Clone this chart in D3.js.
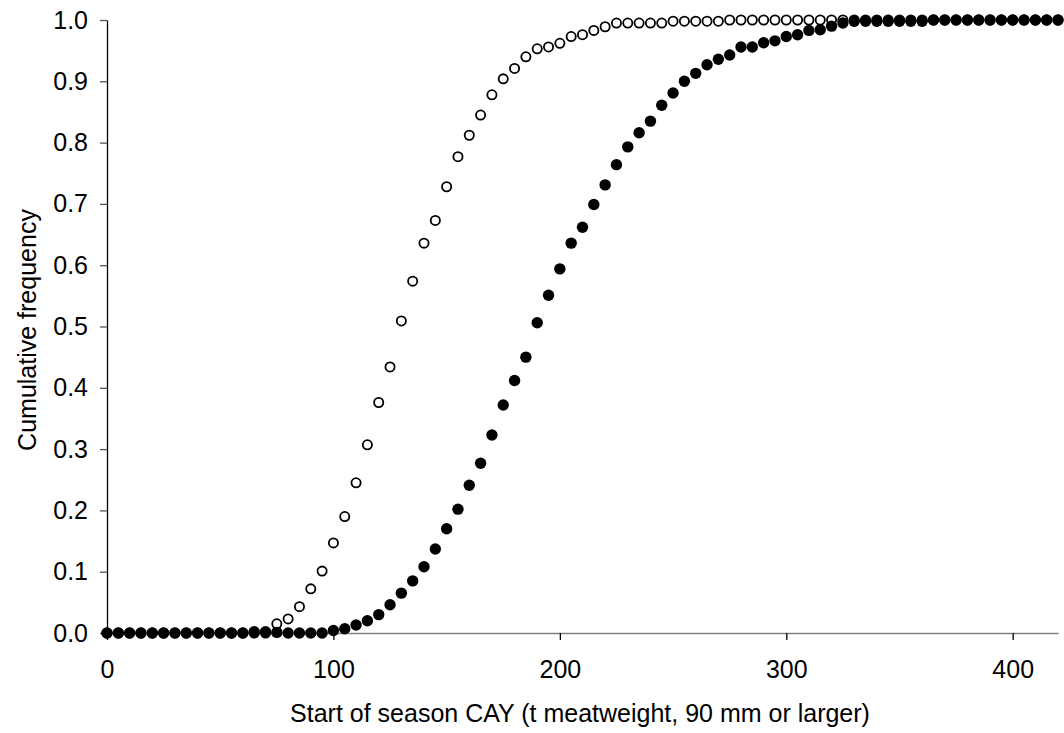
<!DOCTYPE html>
<html>
<head>
<meta charset="utf-8">
<script src="https://cdnjs.cloudflare.com/ajax/libs/d3/7.8.5/d3.min.js"></script>
<style>
  body { margin: 0; background: #fff; }
  svg text { font-family: "Liberation Sans", Arial, sans-serif; fill: #000; }
</style>
</head>
<body>
<div id="chart"></div>
<script>
// start of season CAY (t meatweight), shared by both series
const cay = [0, 5, 10, 15, 20, 25, 30, 35, 40, 45, 50, 55, 60, 65, 70, 75, 80, 85, 90, 95,
  100, 105, 110, 115, 120, 125, 130, 135, 140, 145, 150, 155, 160, 165, 170, 175, 180, 185, 190, 195,
  200, 205, 210, 215, 220, 225, 230, 235, 240, 245, 250, 255, 260, 265, 270, 275, 280, 285, 290, 295,
  300, 305, 310, 315, 320, 325, 330, 335, 340, 345, 350, 355, 360, 365, 370, 375, 380, 385, 390, 395,
  400, 405, 410, 415, 420];

// open circles
const freqOpen = [0, 0, 0, 0, 0, 0, 0, 0, 0, 0, 0, 0, 0, 0, 0, 0.015, 0.023, 0.043, 0.072, 0.101,
  0.147, 0.19, 0.245, 0.307, 0.376, 0.434, 0.509, 0.574, 0.636, 0.673, 0.728, 0.777, 0.812, 0.845, 0.878, 0.904, 0.921, 0.94, 0.953, 0.956,
  0.962, 0.973, 0.976, 0.983, 0.989, 0.995, 0.995, 0.995, 0.995, 0.995, 0.998, 0.998, 0.998, 0.998, 0.998, 1, 1, 1, 1, 1,
  1, 1, 1, 1, 1, 1, 1, 1, 1, 1, 1, 1, 1, 1, 1, 1, 1, 1, 1, 1,
  1, 1, 1, 1, 1];

// filled circles
const freqFilled = [0, 0, 0, 0, 0, 0, 0, 0, 0, 0, 0, 0, 0, 0.002, 0.002, 0.001, 0, 0, 0, 0,
  0.004, 0.007, 0.013, 0.02, 0.03, 0.046, 0.065, 0.085, 0.108, 0.137, 0.17, 0.202, 0.241, 0.277, 0.323, 0.372, 0.412, 0.45, 0.506, 0.551,
  0.594, 0.636, 0.662, 0.699, 0.731, 0.764, 0.793, 0.816, 0.835, 0.861, 0.881, 0.9, 0.913, 0.927, 0.936, 0.943, 0.956, 0.956, 0.963, 0.966,
  0.973, 0.976, 0.983, 0.984, 0.99, 0.995, 0.998, 0.998, 0.998, 0.998, 0.998, 0.998, 0.998, 1, 1, 1, 1, 1, 1, 1,
  1, 1, 1, 1, 1];

const xTicks = [0, 100, 200, 300, 400];
const yTicks = [0, 0.1, 0.2, 0.3, 0.4, 0.5, 0.6, 0.7, 0.8, 0.9, 1.0];

const width = 1064, height = 733;
const margin = {top: 20, right: 6, bottom: 100, left: 107};

let svg = d3.select("#chart")
  .append("svg")
  .attr("width", width)
  .attr("height", height);

let x = d3.scaleLinear()
  .domain([0, 420])
  .range([margin.left, width - margin.right]);

let y = d3.scaleLinear()
  .domain([0, 1])
  .range([height - margin.bottom, margin.top]);

// y axis
let yAxis = svg.append("g")
  .attr("transform", `translate(${margin.left}, 0)`)
  .call(d3.axisLeft(y).tickValues(yTicks).tickFormat(d3.format(".1f")).tickSize(7).tickPadding(12).tickSizeOuter(0));
yAxis.select(".domain").attr("stroke", "#000").attr("stroke-width", 1.3);
yAxis.selectAll(".tick line").attr("stroke", "#555").attr("stroke-width", 1.3);
yAxis.selectAll(".tick text").style("font-size", "25px");

// x axis
let xAxis = svg.append("g")
  .attr("transform", `translate(0, ${y(0)})`)
  .call(d3.axisBottom(x).tickValues(xTicks).tickSize(7).tickPadding(20).tickSizeOuter(0));
xAxis.select(".domain").attr("stroke", "#808080").attr("stroke-width", 1.6);
xAxis.selectAll(".tick line").attr("stroke", "#000").attr("stroke-width", 1.3);
xAxis.selectAll(".tick text").style("font-size", "25px");

// open series drawn first, filled on top
svg.append("g").selectAll("circle")
  .data(cay.map(function(d, i) { return [d, freqOpen[i]]; }))
  .enter()
  .append("circle")
  .attr("cx", function(d) { return x(d[0]); })
  .attr("cy", function(d) { return y(d[1]); })
  .attr("r", 4.6)
  .attr("fill", "#fff")
  .attr("stroke", "#000")
  .attr("stroke-width", 1.8);

svg.append("g").selectAll("circle")
  .data(cay.map(function(d, i) { return [d, freqFilled[i]]; }))
  .enter()
  .append("circle")
  .attr("cx", function(d) { return x(d[0]); })
  .attr("cy", function(d) { return y(d[1]); })
  .attr("r", 5.7)
  .attr("fill", "#000");

// axis titles
svg.append("text")
  .attr("x", 580)
  .attr("y", 722)
  .style("text-anchor", "middle")
  .style("font-size", "25px")
  .text("Start of season CAY (t meatweight, 90 mm or larger)");

svg.append("text")
  .attr("transform", `translate(36, 330) rotate(-90)`)
  .style("text-anchor", "middle")
  .style("font-size", "25px")
  .text("Cumulative frequency");
</script>
</body>
</html>
